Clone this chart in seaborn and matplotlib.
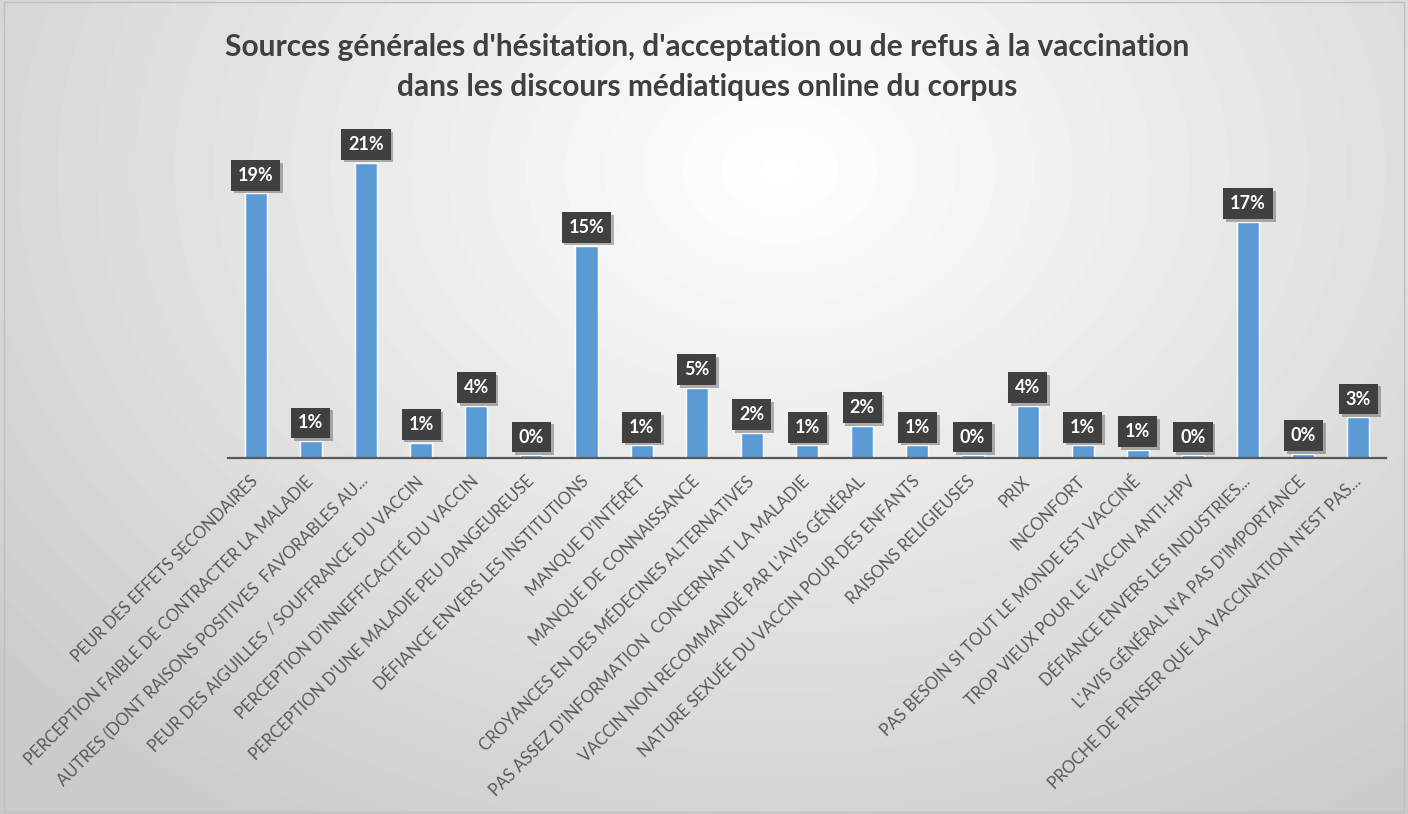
import numpy as np
import pandas as pd
import seaborn as sns
import matplotlib.pyplot as plt
import matplotlib.patheffects as pe
from matplotlib.patches import Rectangle

categories = [
    "PEUR DES EFFETS SECONDAIRES",
    "PERCEPTION FAIBLE DE CONTRACTER LA MALADIE",
    "AUTRES (DONT RAISONS POSITIVES  FAVORABLES AU...",
    "PEUR DES AIGUILLES / SOUFFRANCE DU VACCIN",
    "PERCEPTION D'INNEFFICACITÉ DU VACCIN",
    "PERCEPTION D'UNE MALADIE PEU DANGEUREUSE",
    "DÉFIANCE ENVERS LES INSTITUTIONS",
    "MANQUE D'INTÉRÊT",
    "MANQUE DE CONNAISSANCE",
    "CROYANCES EN DES MÉDECINES ALTERNATIVES",
    "PAS ASSEZ D'INFORMATION  CONCERNANT LA MALADIE",
    "VACCIN NON RECOMMANDÉ PAR L'AVIS GÉNÉRAL",
    "NATURE SEXUÉE DU VACCIN POUR DES ENFANTS",
    "RAISONS RELIGIEUSES",
    "PRIX",
    "INCONFORT",
    "PAS BESOIN SI TOUT LE MONDE EST VACCINÉ",
    "TROP VIEUX POUR LE VACCIN ANTI-HPV",
    "DÉFIANCE ENVERS LES INDUSTRIES...",
    "L'AVIS GÉNÉRAL N'A PAS D'IMPORTANCE",
    "PROCHE DE PENSER QUE LA VACCINATION N'EST PAS...",
]
values = [18.8, 1.2, 21.0, 1.1, 3.7, 0.2, 15.1, 0.9, 5.0, 1.8, 0.9,
          2.3, 0.9, 0.2, 3.7, 0.9, 0.6, 0.2, 16.8, 0.3, 2.9]
title = ("Sources générales d'hésitation, d'acceptation ou de refus à la vaccination\n"
         "dans les discours médiatiques online du corpus")

df = pd.DataFrame({"source": categories, "share": values})

sns.set_theme(style="white")
plt.rcParams["font.family"] = ["Lato", "DejaVu Sans"]

fig = plt.figure(figsize=(14.08, 8.14), dpi=100)

# soft radial background like the office chart style
bg = fig.add_axes([0, 0, 1, 1], zorder=-10)
yy, xx = np.mgrid[0:814, 0:1408]
dist = np.sqrt(((xx - 780) / 850) ** 2 + ((yy - 170) / 650) ** 2)
shade = np.clip(1.0 - 0.17 * dist, 0.8, 1.0)
bg.imshow(shade, cmap="gray", vmin=0, vmax=1, aspect="auto")
bg.axis("off")

ax = fig.add_axes([0.162, 0.4373, 0.8224, 0.3907])
ax.patch.set_alpha(0)
sns.barplot(data=df, x="source", y="share", color="#5b9bd5", width=0.4,
            saturation=1, ax=ax)
ax.set_ylim(0, 22.6)
ax.set_xlim(-0.5, len(categories) - 0.5)
ax.set_yticks([])
ax.set_xlabel("")
ax.set_ylabel("")
for s in ["top", "left", "right"]:
    ax.spines[s].set_visible(False)
ax.spines["bottom"].set_color("#595959")
ax.spines["bottom"].set_linewidth(1.6)

ax.tick_params(axis="x", length=0, pad=15)
ax.set_xticks(range(len(categories)))
ax.set_xticklabels(categories, rotation=45, ha="right", va="center",
                   rotation_mode="anchor", fontsize=12.0, color="#595959")

for i, v in enumerate(values):
    ann = ax.annotate(f"{v:.0f}%", (i, v), xytext=(0, 7), textcoords="offset points",
                      ha="center", va="bottom", color="white", fontweight="bold",
                      fontsize=13,
                      bbox=dict(boxstyle="square,pad=0.38", fc="#404040", ec="none"))
    ann.get_bbox_patch().set_path_effects(
        [pe.SimplePatchShadow(offset=(2, -2), alpha=0.3), pe.Normal()])

fig.text(0.502, 1 - 67 / 814, title, ha="center", va="center", fontsize=21.5,
         fontweight="bold", color="#404040", linespacing=1.5)

fig.patches.append(Rectangle((0.003, 0.003), 0.994, 0.994, transform=fig.transFigure,
                             fill=False, ec="#bfbfbf", lw=1))

fig.savefig("out.png", dpi=100)
